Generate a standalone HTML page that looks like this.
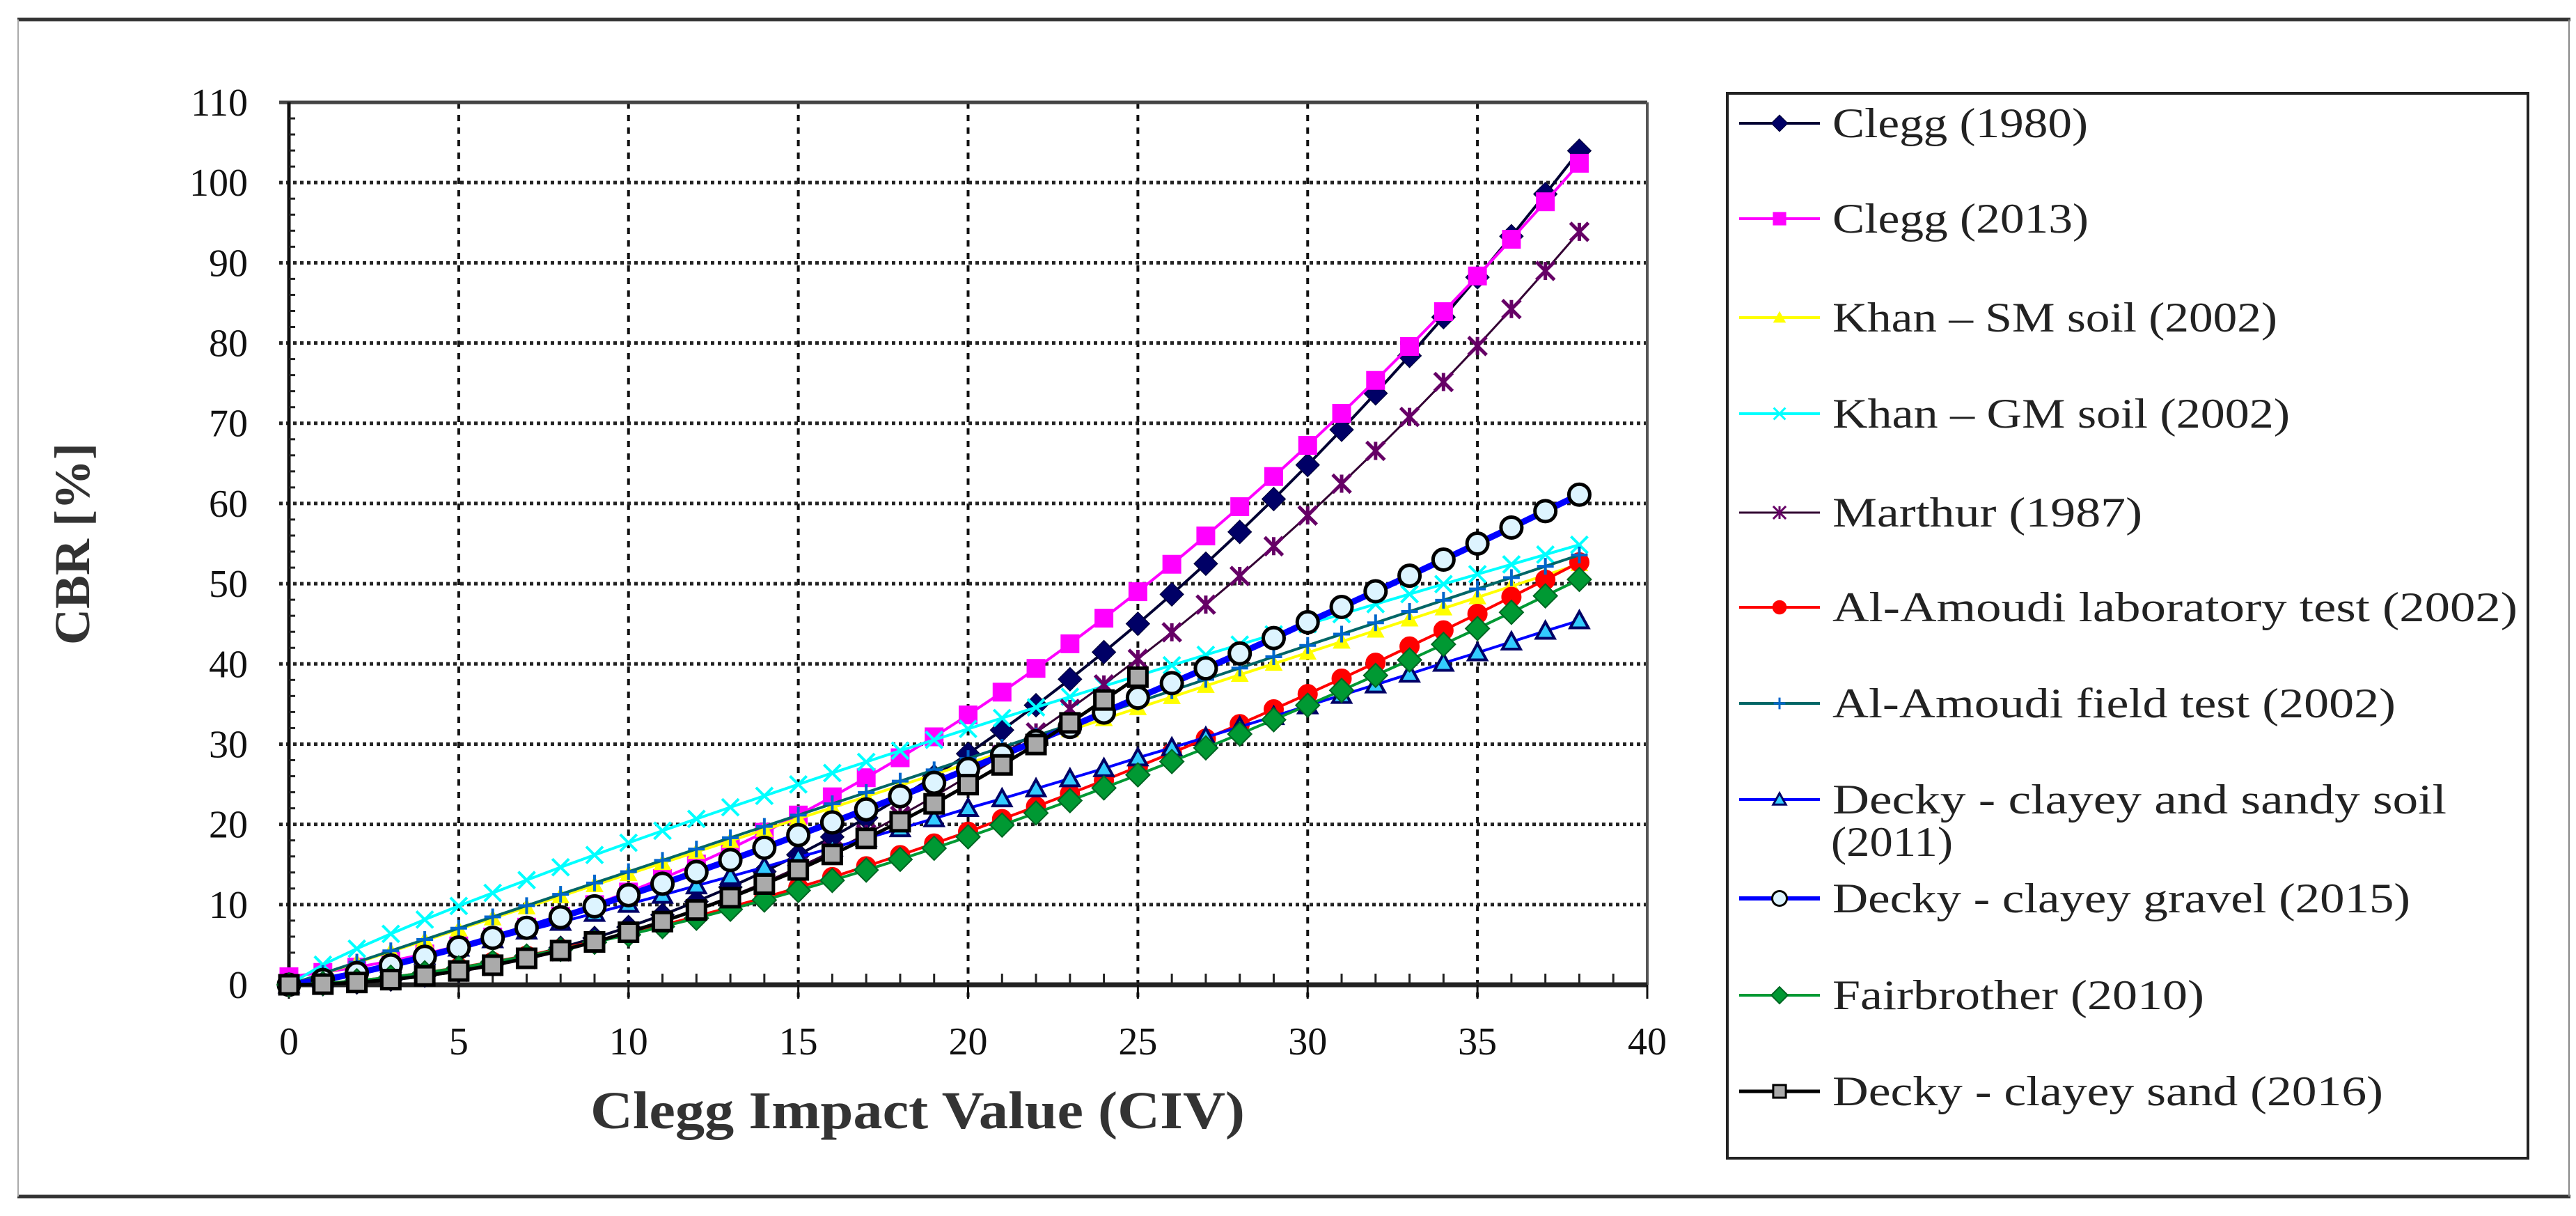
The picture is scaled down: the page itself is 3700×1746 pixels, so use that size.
<!DOCTYPE html>
<html><head><meta charset="utf-8"><style>
html,body{margin:0;padding:0;background:#fff;}
svg{display:block;}
text{font-family:"Liberation Serif",serif;}
</style></head><body>
<svg id="chart" width="3700" height="1746" viewBox="0 0 3700 1746" xmlns="http://www.w3.org/2000/svg">
<rect x="0" y="0" width="3700" height="1746" fill="#fff"/>
<g>
<line x1="25" y1="28" x2="3692" y2="28" stroke="#333" stroke-width="5"/>
<line x1="25" y1="1718" x2="3692" y2="1718" stroke="#333" stroke-width="5"/>
<line x1="26" y1="28" x2="26" y2="1718" stroke="#aaa" stroke-width="2"/>
<line x1="3690" y1="28" x2="3690" y2="1718" stroke="#888" stroke-width="2"/>
</g>
<g id="grid"></g>
<g id="axes"></g>
<g id="series"></g>
<text x="0" y="0" transform="translate(128,781) rotate(-90)" text-anchor="middle" font-size="72" font-weight="bold" fill="#333">CBR [%]</text>
<text x="1318" y="1620" text-anchor="middle" font-size="76" font-weight="bold" fill="#333" textLength="940" lengthAdjust="spacingAndGlyphs">Clegg Impact Value (CIV)</text>
<rect x="2481" y="134" width="1150" height="1529" fill="none" stroke="#222" stroke-width="4"/>
<g id="legend"></g>
</svg>
<script>
const xTicks = [0,5,10,15,20,25,30,35,40];
const yTicks = [0,10,20,30,40,50,60,70,80,90,100,110];
const civ = [0,1,2,3,4,5,6,7,8,9,10,11,12,13,14,15,16,17,18,19,20,21,22,23,24,25,26,27,28,29,30,31,32,33,34,35,36,37,38];
const clegg1980 = [0,0.07,0.29,0.65,1.15,1.8,2.59,3.53,4.61,5.83,7.2,8.71,10.37,12.17,14.11,16.2,18.43,20.81,23.33,25.99,28.8,31.75,34.85,38.09,41.47,45,48.67,52.49,56.45,60.55,64.8,69.19,73.73,78.41,83.23,88.2,93.31,98.57,103.97];
const clegg2013 = [1,1.54,2.19,2.96,3.84,4.84,5.95,7.18,8.53,9.99,11.56,13.25,15.05,16.97,19.01,21.16,23.43,25.81,28.3,30.91,33.64,36.48,39.44,42.51,45.7,49,52.42,55.95,59.6,63.36,67.24,71.23,75.34,79.57,83.91,88.36,92.93,97.61,102.41];
const khanSM = [0,1.38,2.76,4.14,5.52,6.9,8.28,9.66,11.04,12.42,13.8,15.18,16.56,17.94,19.32,20.7,22.08,23.46,24.84,26.22,27.6,28.98,30.36,31.74,33.12,34.5,35.88,37.26,38.64,40.02,41.4,42.78,44.16,45.54,46.92,48.3,49.68,51.06,52.44];
const khanGM = [0,2.5,4.5,6.35,8.13,9.83,11.45,13.05,14.65,16.18,17.7,19.2,20.68,22.13,23.55,24.98,26.4,27.78,29.18,30.53,31.9,33.25,34.58,35.9,37.23,38.53,39.83,41.13,42.4,43.68,44.95,46.2,47.45,48.7,49.95,51.18,52.4,53.63,54.85];
const marthur = [0,0.07,0.26,0.59,1.04,1.63,2.34,3.19,4.16,5.27,6.5,7.87,9.36,10.99,12.74,14.63,16.64,18.79,21.06,23.47,26,28.67,31.46,34.39,37.44,40.63,43.94,47.39,50.96,54.67,58.5,62.47,66.56,70.79,75.14,79.63,84.24,88.99,93.86];
const amoudiLab = [0,0.17,0.5,0.95,1.5,2.14,2.85,3.64,4.49,5.41,6.38,7.43,8.52,9.68,10.87,12.13,13.42,14.77,16.16,17.61,19.08,20.65,22.21,23.82,25.47,27.17,28.91,30.68,32.49,34.34,36.24,38.17,40.14,42.17,44.18,46.23,48.35,50.48,52.67];
const amoudiField = [0,1.41,2.82,4.23,5.64,7.05,8.46,9.87,11.28,12.69,14.1,15.51,16.92,18.33,19.74,21.15,22.56,23.97,25.38,26.79,28.2,29.61,31.02,32.43,33.84,35.25,36.66,38.07,39.48,40.89,42.3,43.71,45.12,46.53,47.94,49.35,50.76,52.17,53.58];
const deckySandySoil = [0,0.75,1.63,2.58,3.57,4.59,5.64,6.72,7.81,8.92,10.05,11.18,12.35,13.5,14.67,15.89,17.07,18.26,19.47,20.72,22.0,23.2,24.45,25.7,26.97,28.3,29.55,30.85,32.15,33.45,34.8,36.1,37.4,38.75,40.1,41.4,42.75,44.1,45.4];
const deckyGravel = [0,0.6,1.45,2.42,3.49,4.64,5.85,7.1,8.42,9.78,11.17,12.6,14.06,15.55,17.08,18.66,20.24,21.86,23.5,25.18,26.9,28.62,30.36,32.14,33.94,35.8,37.6,39.45,41.3,43.22,45.2,47.1,49.05,51.0,53.0,55.0,57.0,59.05,61.1];
const fairbrother = [0,0.17,0.5,0.95,1.49,2.11,2.81,3.58,4.41,5.3,6.24,7.25,8.3,9.41,10.56,11.76,13.01,14.3,15.63,17.02,18.44,19.91,21.41,22.96,24.54,26.17,27.83,29.53,31.26,33.04,34.85,36.7,38.57,40.49,42.44,44.41,46.43,48.48,50.53];
const deckySand = [0,0.08,0.29,0.64,1.12,1.72,2.44,3.3,4.26,5.34,6.55,7.88,9.32,10.86,12.55,14.32,16.25,18.25,20.33,22.56,24.95,27.41,29.95,32.65,35.5,38.35];
const seriesNames = ["Clegg (1980)","Clegg (2013)","Khan \u2013 SM soil (2002)","Khan \u2013 GM soil (2002)","Marthur (1987)","Al-Amoudi laboratory test (2002)","Al-Amoudi field test (2002)","Decky - clayey and sandy soil","Decky - clayey gravel (2015)","Fairbrother (2010)","Decky - clayey sand (2016)"];

const NS = "http://www.w3.org/2000/svg";
const X0 = 415, X1 = 2366, Y0 = 1414, Y1 = 147;
function sx(v){ return X0 + (v - 0) / 40 * (X1 - X0); }
function sy(v){ return Y0 - (v - 0) / 110 * (Y0 - Y1); }
function mk(tag, attrs, parent){
  const e = document.createElementNS(NS, tag);
  for (const k in attrs) e.setAttribute(k, attrs[k]);
  parent.appendChild(e);
  return e;
}
const grid = document.getElementById('grid');
const axes = document.getElementById('axes');
const ser = document.getElementById('series');
const leg = document.getElementById('legend');

// grid
xTicks.forEach(t => {
  if (t === 0 || t === 40) return;
  const l = mk('line', {x1:sx(t), y1:Y1, x2:sx(t), y2:Y0+18, stroke:'#111', 'stroke-width':4, 'stroke-dasharray':'9 9'}, grid);
  
  
});
yTicks.forEach(t => {
  if (t === 0 || t === 110) return;
  const l = mk('line', {x1:X0-14, y1:sy(t), x2:X1, y2:sy(t), stroke:'#222', 'stroke-width':5, 'stroke-dasharray':'5 5'}, grid);
  
  
});
// frame & axes
mk('line', {x1:X0-14, y1:Y1, x2:X1, y2:Y1, stroke:'#444', 'stroke-width':5}, axes);
mk('line', {x1:X1, y1:Y1, x2:X1, y2:Y0, stroke:'#555', 'stroke-width':4}, axes);
mk('line', {x1:X0, y1:Y1, x2:X0, y2:Y0, stroke:'#111', 'stroke-width':5}, axes);
mk('line', {x1:X0-14, y1:Y0, x2:X1, y2:Y0, stroke:'#222', 'stroke-width':7}, axes);
mk('line', {x1:X0-14, y1:Y0, x2:X0, y2:Y0, stroke:'#222', 'stroke-width':5}, axes);
for (let v = 2; v < 110; v += 2) {
  if (v % 10 === 0) continue;
  mk('line', {x1:X0, y1:sy(v), x2:X0+9, y2:sy(v), stroke:'#222', 'stroke-width':3}, axes);
}
for (let v = 1; v < 40; v++) {
  if (v % 5 === 0) continue;
  mk('line', {x1:sx(v), y1:Y0, x2:sx(v), y2:Y0-16, stroke:'#222', 'stroke-width':3}, axes);
}
xTicks.forEach(t => {
  mk('line', {x1:sx(t), y1:Y0, x2:sx(t), y2:Y0+20, stroke:'#111', 'stroke-width':3}, axes);
  const tx = mk('text', {x:sx(t), y:Y0+100, 'text-anchor':'middle', 'font-size':56, fill:'#111'}, axes);
  tx.textContent = t;
  
  
});
yTicks.forEach(t => {
  const tx = mk('text', {x:356, y:sy(t)+19, 'text-anchor':'end', 'font-size':56, fill:'#111'}, axes);
  tx.textContent = t;
  
  
});

// markers
function marker(type, x, y, s, g){
  const h = s/2;
  switch(type){
    case 'diamond': return mk('polygon', {points:`${x},${y-h} ${x+h},${y} ${x},${y+h} ${x-h},${y}`, fill:s.fill}, g);
  }
}
function drawMarker(st, x, y, g){
  const h = st.size/2;
  if (st.m === 'diamond') mk('polygon', {points:`${x},${y-h} ${x+h},${y} ${x},${y+h} ${x-h},${y}`, fill:st.fill, stroke:st.mstroke, 'stroke-width':st.msw}, g);
  else if (st.m === 'square') mk('rect', {x:x-h, y:y-h, width:st.size, height:st.size, fill:st.fill, stroke:st.mstroke, 'stroke-width':st.msw}, g);
  else if (st.m === 'triangle') mk('polygon', {points:`${x},${y-h} ${x+h},${y+h*0.8} ${x-h},${y+h*0.8}`, fill:st.fill, stroke:st.mstroke, 'stroke-width':st.msw}, g);
  else if (st.m === 'circle') mk('circle', {cx:x, cy:y, r:h, fill:st.fill, stroke:st.mstroke, 'stroke-width':st.msw}, g);
  else if (st.m === 'x') { mk('path', {d:`M${x-h},${y-h}L${x+h},${y+h}M${x-h},${y+h}L${x+h},${y-h}`, stroke:st.fill, 'stroke-width':st.msw}, g); }
  else if (st.m === 'star') { mk('path', {d:`M${x-h},${y-h}L${x+h},${y+h}M${x-h},${y+h}L${x+h},${y-h}M${x},${y-h}L${x},${y+h}`, stroke:st.fill, 'stroke-width':st.msw}, g); }
  else if (st.m === 'plus') { mk('path', {d:`M${x-h},${y}L${x+h},${y}M${x},${y-h}L${x},${y+h}`, stroke:st.fill, 'stroke-width':st.msw}, g); }
}
const styles = [
  {data:clegg1980, line:'#000033', lw:4, m:'diamond', fill:'#000066', mstroke:'#000033', msw:1, size:34, key:'clegg-1980'},
  {data:clegg2013, line:'#ff00ff', lw:4, m:'square', fill:'#ff00ff', mstroke:'#ff00ff', msw:1, size:26, key:'clegg-2013'},
  {data:khanSM, line:'#ffff00', lw:4, m:'triangle', fill:'#ffff00', mstroke:'#ffff00', msw:1, size:24, key:'khan-sm'},
  {data:khanGM, line:'#00ffff', lw:4, m:'x', fill:'#00ffff', mstroke:'#00ffff', msw:4, size:24, key:'khan-gm'},
  {data:marthur, line:'#330033', lw:3, m:'star', fill:'#660066', mstroke:'#660066', msw:5, size:26, key:'marthur'},
  {data:amoudiLab, line:'#ff0000', lw:4, m:'circle', fill:'#ff0000', mstroke:'#ff0000', msw:1, size:28, key:'amoudi-lab'},
  {data:amoudiField, line:'#006666', lw:4, m:'plus', fill:'#0066cc', mstroke:'#0066cc', msw:4, size:24, key:'amoudi-field'},
  {data:deckySandySoil, line:'#0000ff', lw:4, m:'triangle', fill:'#33ccff', mstroke:'#000066', msw:4, size:26, key:'decky-sandy-soil'},
  {data:deckyGravel, line:'#0000ff', lw:9, m:'circle', fill:'#ddf4ff', mstroke:'#000000', msw:5, size:30, key:'decky-gravel'},
  {data:fairbrother, line:'#009933', lw:4, m:'diamond', fill:'#009933', mstroke:'#006622', msw:2, size:34, key:'fairbrother'},
  {data:deckySand, line:'#000000', lw:5, m:'square', fill:'#aaaaaa', mstroke:'#000000', msw:5, size:26, key:'decky-sand'}
];
styles.forEach((st, i) => {
  const g = mk('g', {}, ser);
  
  
  const pts = st.data.map((v, j) => sx(civ[j]) + ',' + sy(v)).join(' ');
  const pl = mk('polyline', {points:pts, fill:'none', stroke:st.line, 'stroke-width':st.lw, 'stroke-linejoin':'round'}, g);
  
  
  st.data.forEach((v, j) => drawMarker(st, sx(civ[j]), sy(v), g));
});

// legend
const legY = [177, 314, 456, 594, 736, 872, 1010, 1148, 1290, 1429, 1567];
const legW = [367, 368, 639, 657, 445, 984, 809, 882, 830, 534, 791];
styles.forEach((st, i) => {
  const g = mk('g', {}, leg);
  
  
  const y = legY[i];
  mk('line', {x1:2498, y1:y, x2:2614, y2:y, stroke:st.line, 'stroke-width':Math.min(st.lw, 6)}, g);
  drawMarker(Object.assign({}, st, {size:st.size*0.7, msw:Math.min(st.msw, 3)}), 2556, y, g);
  const t = mk('text', {x:2632, y:y+20, 'font-size':60, fill:'#222', textLength:legW[i], lengthAdjust:'spacingAndGlyphs'}, g);
  t.textContent = seriesNames[i];
  if (i === 7) {
    const t2 = mk('text', {x:2630, y:1229, 'font-size':60, fill:'#222', textLength:175, lengthAdjust:'spacingAndGlyphs'}, g);
    t2.textContent = '(2011)';
  }
});
</script>
</body></html>
